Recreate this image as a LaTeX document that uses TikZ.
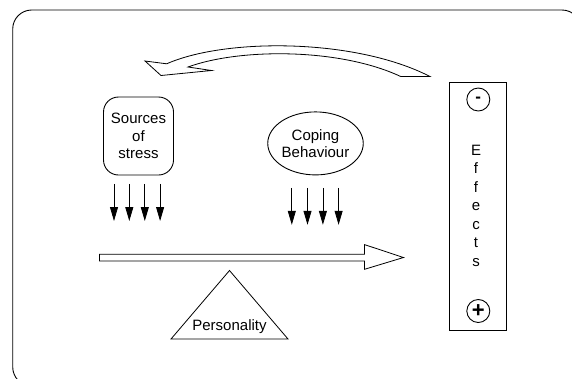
\documentclass[tikz,border=0pt]{standalone}
\usepackage{fontspec}
\setmainfont{Liberation Sans}
\usetikzlibrary{arrows.meta,shapes.geometric}
\begin{document}
\begin{tikzpicture}[x=1pt,y=-1pt,line width=0.9pt,
  lbl/.style={font=\fontsize{15}{17.5}\selectfont,align=center,inner sep=0pt},
  drop/.style={line width=0.8pt,-{Triangle[length=14pt,width=8pt]}},
  shapeline/.style={draw=black,line width=0.8pt,line join=miter}]
\useasboundingbox (0,0) rectangle (572,378);
\begin{scope}
\clip (0,0) rectangle (572,378);
\draw[rounded corners=19pt] (12.7,10) rectangle (581,386);
\end{scope}
% curved feedback arrow
\draw[shapeline] (145,61) -- (166.7,63.8) .. controls (225,38) and (355,38) .. (430,76.5)
  -- (400.7,76.5) .. controls (340,48) and (240,48) .. (188,67)
  -- (211.5,70.5) -- (161,75.5) -- cycle;
% sources of stress
\node[lbl,draw,rounded corners=15pt,minimum width=70pt,minimum height=78pt] (src) at (138.5,136) {Sources\\of\\stress};
% coping behaviour
\node[lbl,draw,ellipse,minimum width=94pt,minimum height=63pt,inner sep=0pt] (cop) at (315.5,143.4) {Coping\\Behaviour};
% arrows below sources
\foreach \x [count=\i] in {114,129.3,144.8,160.1}{
  \coordinate (s\i a) at (\x,183.8);
  \coordinate (s\i b) at (\x,221);
  \draw[drop] (s\i a) -- (s\i b);
}
% arrows below coping
\foreach \x [count=\i] in {291.8,307.5,322.9,338.6}{
  \coordinate (c\i a) at (\x,187.8);
  \coordinate (c\i b) at (\x,224.8);
  \draw[drop] (c\i a) -- (c\i b);
}
% big horizontal arrow
\draw[shapeline] (99.5,254.3) -- (364.5,254.3) -- (364.5,244.6) -- (403.5,257.5)
  -- (364.5,269.3) -- (364.5,260.9) -- (99.5,260.9) -- cycle;
% personality triangle
\draw[shapeline] (229.5,270.5) -- (288,339) -- (171,339) -- cycle;
\node[lbl] (pers) at (229.5,326.5) {Personality};
% effects box
\node[draw,minimum width=57.4pt,minimum height=247.3pt,inner sep=0pt] (eff) at (478,206.4) {};
\node[draw,circle,minimum size=23pt,inner sep=0pt,font=\fontsize{17}{17}\selectfont\bfseries] (minus) at (478.3,99.5) {-};
\node[draw,circle,minimum size=23pt,inner sep=0pt,font=\fontsize{22}{22}\selectfont\bfseries] (plus) at (478.3,311) {+};
\node[lbl,font=\fontsize{15}{18.5}\selectfont] (efftxt) at (476,205.5) {E\\f\\f\\e\\c\\t\\s};
\end{tikzpicture}
\end{document}
